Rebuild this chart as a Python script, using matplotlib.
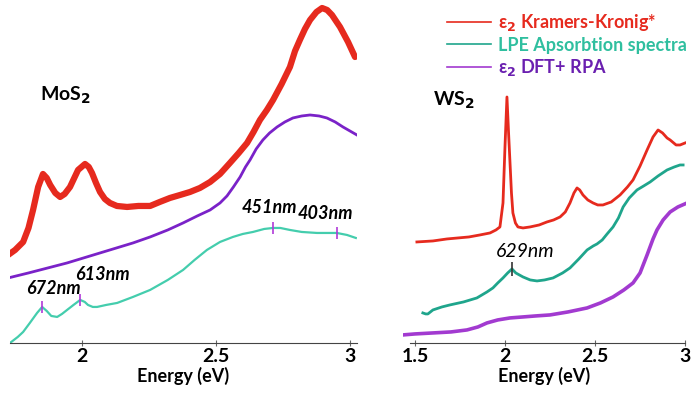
import numpy as np
import matplotlib.pyplot as plt

plt.rcParams['font.family'] = ['Lato', 'DejaVu Sans']

# MoS2 panel (energy in eV, curve height in arbitrary offset units)
mos2_kk_e = [1.724, 1.750, 1.780, 1.800, 1.817, 1.836, 1.854, 1.868, 1.881, 1.900, 1.918, 1.935,
             1.955, 1.985, 2.011, 2.025, 2.037, 2.052, 2.067, 2.085, 2.104, 2.130, 2.168, 2.210,
             2.254, 2.290, 2.328, 2.366, 2.403, 2.440, 2.478, 2.515, 2.552, 2.585, 2.616, 2.640,
             2.664, 2.690, 2.713, 2.745, 2.776, 2.795, 2.813, 2.832, 2.851, 2.875, 2.896, 2.915,
             2.933, 2.963, 2.993, 3.019]
mos2_kk = [88, 93, 101, 115, 133, 156, 169, 165, 158, 150, 146, 149,
           156, 173, 179, 176, 170, 160, 151, 144, 140, 137, 136, 137,
           137, 141, 145, 148, 151, 155, 161, 169, 180, 190, 200, 211,
           223, 233, 243, 259, 276, 292, 303, 314, 323, 331, 335, 333,
           328, 316, 301, 286]

mos2_dft_e = [1.724, 1.800, 1.944, 2.067, 2.190, 2.254, 2.320, 2.377, 2.430, 2.478, 2.515,
              2.541, 2.565, 2.590, 2.610, 2.627, 2.650, 2.675, 2.700, 2.728, 2.757, 2.787,
              2.820, 2.851, 2.885, 2.914, 2.945, 2.974, 3.000, 3.026]
mos2_dft = [65, 70, 80, 90, 100, 106, 113, 120, 127, 133, 140,
            147, 156, 166, 176, 183, 194, 203, 210, 216, 221, 225,
            227, 228, 227, 225, 221, 216, 212, 208]

mos2_lpe_e = [1.731, 1.760, 1.780, 1.805, 1.832, 1.851, 1.868, 1.885, 1.907, 1.925, 1.944,
              1.968, 1.993, 2.010, 2.022, 2.040, 2.056, 2.090, 2.131, 2.190, 2.254, 2.320,
              2.377, 2.420, 2.466, 2.515, 2.563, 2.600, 2.638, 2.680, 2.713, 2.740, 2.776,
              2.820, 2.877, 2.951, 2.989, 3.022]
mos2_lpe = [0, 6, 11, 20, 30, 36, 32, 27, 26, 29, 33,
            38, 43, 41, 38, 36, 36, 38, 40, 46, 53, 63,
            73, 83, 93, 101, 106, 109, 111, 114, 115, 115, 113,
            111, 110, 110, 108, 105]

mos2_peaks = [1.851, 1.993, 2.713, 2.951]
mos2_peak_labels = ['672nm', '613nm', '451nm', '403nm']

# WS2 panel
ws2_kk_e = [1.511, 1.600, 1.678, 1.800, 1.861, 1.917, 1.950, 1.972, 1.989, 2.000, 2.011, 2.020,
            2.028, 2.036, 2.044, 2.058, 2.072, 2.100, 2.139, 2.190, 2.233, 2.270, 2.306, 2.335,
            2.361, 2.383, 2.400, 2.415, 2.433, 2.460, 2.489, 2.515, 2.544, 2.590, 2.639, 2.680,
            2.711, 2.750, 2.789, 2.822, 2.850, 2.875, 2.900, 2.917, 2.950, 2.972, 3.000]
ws2_kk = [101, 102, 104, 106, 108, 110, 113, 116, 140, 196, 246, 210,
          180, 150, 130, 120, 116, 115, 116, 118, 121, 123, 126, 131,
          140, 150, 155, 153, 148, 143, 140, 138, 138, 141, 148, 156,
          163, 177, 193, 206, 213, 210, 205, 203, 198, 198, 200]

ws2_lpe_e = [1.544, 1.560, 1.572, 1.600, 1.650, 1.694, 1.770, 1.844, 1.900, 1.933, 1.960,
             1.989, 2.015, 2.039, 2.060, 2.100, 2.140, 2.178, 2.220, 2.267, 2.320, 2.361,
             2.410, 2.456, 2.490, 2.511, 2.540, 2.567, 2.600, 2.630, 2.656, 2.690, 2.733,
             2.770, 2.806, 2.850, 2.900, 2.940, 2.972, 2.989]
ws2_lpe = [30, 29, 29, 33, 36, 38, 41, 45, 51, 55, 60,
           65, 70, 74, 70, 66, 63, 62, 63, 65, 70, 75,
           84, 93, 97, 99, 103, 109, 116, 125, 136, 145, 153,
           157, 161, 167, 173, 176, 178, 178]

ws2_dft_e = [1.433, 1.500, 1.600, 1.700, 1.789, 1.850, 1.900, 1.960, 2.028, 2.100, 2.170,
             2.250, 2.350, 2.456, 2.530, 2.600, 2.660, 2.711, 2.750, 2.789, 2.822, 2.844,
             2.878, 2.917, 2.960, 3.011]
ws2_dft = [8, 9, 10, 11, 13, 16, 20, 23, 25, 26, 27,
           28, 31, 35, 40, 46, 53, 60, 70, 88, 104, 113,
           123, 131, 136, 140]

ws2_peak = 2.039
ws2_peak_label = '629nm'

red = '#e62a1e'
teal_l = '#44cdad'
teal_r = '#1fa58c'
purple_l = '#7a22c8'
purple_r = '#a23ad0'

fig = plt.figure(figsize=(6.91, 3.96), dpi=100)
ax1 = fig.add_axes([0.0145, 0.134, 0.502, 0.866])
ax2 = fig.add_axes([0.583, 0.134, 0.410, 0.866])

# left panel
ax1.plot(mos2_kk_e, mos2_kk, color=red, lw=4.5, solid_capstyle='round', solid_joinstyle='round')
ax1.plot(mos2_dft_e, mos2_dft, color=purple_l, lw=2)
ax1.plot(mos2_lpe_e, mos2_lpe, color=teal_l, lw=1.6)
peak_y = np.interp(mos2_peaks, mos2_lpe_e, mos2_lpe)
ax1.plot(mos2_peaks, peak_y, ls='none', marker='|', ms=8, mew=1.2, color='#b03ad8')
label_pos = [(1.892, 54), (2.075, 68), (2.700, 135), (2.907, 129)]
for lab, (xe, yv) in zip(mos2_peak_labels, label_pos):
    ax1.text(xe, yv, lab, ha='center', va='center', fontsize=13, fontweight='bold', style='italic')
ax1.text(1.843, 248, r'MoS$_\mathbf{2}$', fontsize=14, fontweight='bold', va='center')
ax1.set_xlim(1.731, 3.026)

# right panel
l1, = ax2.plot(ws2_kk_e, ws2_kk, color=red, lw=2)
l2, = ax2.plot(ws2_lpe_e, ws2_lpe, color=teal_r, lw=2)
l3, = ax2.plot(ws2_dft_e, ws2_dft, color=purple_r, lw=2.6)
ax2.plot([ws2_peak], [np.interp(ws2_peak, ws2_lpe_e, ws2_lpe)], ls='none', marker='|',
         ms=10, mew=1.2, color='#333333')
ax2.text(2.111, 91, ws2_peak_label, ha='center', va='center', fontsize=14, style='italic')
ax2.text(1.600, 243, r'WS$_\mathbf{2}$', fontsize=14, fontweight='bold', va='center')
ax2.set_xlim(1.433, 3.006)
ax2.spines['bottom'].set_bounds(1.47, 3.0)

for ax, ticks, labels in [(ax1, [2, 2.5, 3], ['2', '2.5', '3']),
                          (ax2, [1.5, 2, 2.5, 3], ['1.5', '2', '2.5', '3'])]:
    ax.set_ylim(0, 343)
    for s in ['left', 'top', 'right']:
        ax.spines[s].set_visible(False)
    ax.spines['bottom'].set_color('#444444')
    ax.set_yticks([])
    ax.set_xticks(ticks)
    ax.set_xticklabels(labels, fontweight='bold', fontsize=14)
    ax.tick_params(axis='x', length=4, direction='inout', pad=2, color='#666666')
    ax.set_xlabel('Energy (eV)', fontweight='bold', fontsize=13, labelpad=1)
    ax.patch.set_alpha(0)

fig.legend([l1, l2, l3],
           ['ε$_\\mathbf{2}$ Kramers-Kronig*', 'LPE Apsorbtion spectra', 'ε$_\\mathbf{2}$ DFT+ RPA'],
           loc='upper left', bbox_to_anchor=(0.642, 0.978), frameon=False,
           prop={'weight': 'bold', 'size': 13}, labelcolor=[red, '#2fbf9f', '#6a1fb0'],
           handlelength=2.4, handletextpad=0.4, labelspacing=0.18, borderpad=0.2,
           borderaxespad=0)
for h in fig.legends[0].legend_handles:
    h.set_linewidth(1.2)

fig.savefig('out.png', dpi=100)
